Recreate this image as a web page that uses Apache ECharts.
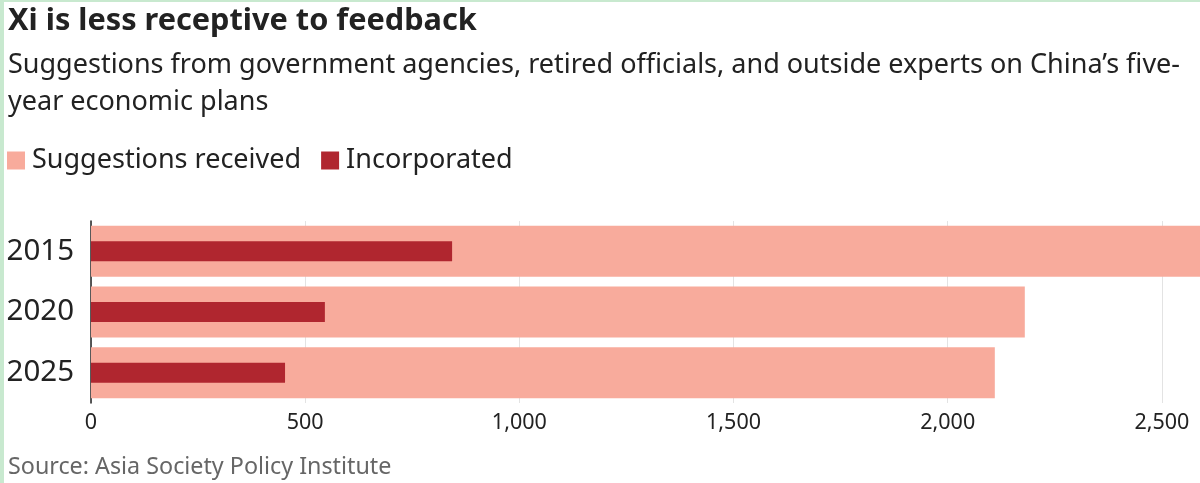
<!DOCTYPE html>
<html>
<head>
<meta charset="utf-8">
<style>
  html, body { margin: 0; padding: 0; background: #fff; }
  #chart { width: 1200px; height: 483px; }
</style>
<script src="https://cdn.jsdelivr.net/npm/echarts@6/dist/echarts.min.js"></script>
</head>
<body>
<div id="chart"></div>
<script>
// data
var years = ['2015', '2020', '2025'];
var received = [2650, 2180, 2110];
var incorporated = [843, 546, 453];
var ticks = [0, 500, 1000, 1500, 2000, 2500];

var font = 'Noto Sans';
var chart = echarts.init(document.getElementById('chart'));

function fmt(v) {
  if (ticks.indexOf(v) < 0) return '';
  return echarts.format.addCommas(v);
}

var option = {
  animation: false,
  textStyle: { fontFamily: font },
  title: [
    {
      text: 'Xi is less receptive to feedback',
      left: 3, top: 1,
      textStyle: { fontFamily: font, fontSize: 30.7, fontWeight: 'bold', color: '#222' }
    },
    {
      text: 'Suggestions from government agencies, retired officials, and outside experts on China\u2019s five-\nyear economic plans',
      left: 3, top: 42,
      textStyle: { fontFamily: font, fontSize: 27, fontWeight: 'normal', color: '#222', lineHeight: 37 }
    },
    {
      text: 'Source: Asia Society Policy Institute',
      left: 3, top: 451,
      textStyle: { fontFamily: font, fontSize: 23.3, fontWeight: 'normal', color: '#666' }
    }
  ],
  legend: {
    left: 2, top: 142,
    icon: 'rect',
    itemWidth: 18, itemHeight: 18,
    itemGap: 20,
    textStyle: { fontFamily: font, fontSize: 27, color: '#222', padding: [0, 0, 0, 2] },
    data: ['Suggestions received', 'Incorporated']
  },
  grid: { left: 91, top: 221, height: 182, right: 0, containLabel: false },
  xAxis: {
    type: 'value',
    min: 0, max: 2589, interval: 500,
    axisLine: { show: false },
    axisTick: { show: false },
    splitLine: { show: true, showMaxLine: false, lineStyle: { color: '#e3e3e3', width: 1 } },
    axisLabel: { fontFamily: font, fontSize: 21.5, color: '#222', margin: 9, showMaxLabel: false, formatter: fmt }
  },
  yAxis: [
    {
      type: 'category', data: years, inverse: true,
      axisLine: { show: true, lineStyle: { color: '#222', width: 1.5 } },
      axisTick: { show: false },
      axisLabel: { fontFamily: font, fontSize: 29.5, color: '#222', margin: 17 }
    },
    {
      type: 'category', data: years, inverse: true, position: 'left',
      axisLine: { show: false }, axisTick: { show: false }, axisLabel: { show: false }
    }
  ],
  series: [
    {
      name: 'Suggestions received', type: 'bar', yAxisIndex: 0,
      data: received, barWidth: 51,
      itemStyle: { color: '#f8ab9c' }
    },
    {
      name: 'Incorporated', type: 'bar', yAxisIndex: 1,
      data: incorporated, barWidth: 20,
      itemStyle: { color: '#b0262f' }
    }
  ],
  graphic: [
    { type: 'rect', left: 0, top: 0, shape: { width: 4, height: 483 }, style: { fill: '#c8e9cf' }, z: 100 },
    { type: 'rect', left: 0, top: 0, shape: { width: 1200, height: 2 }, style: { fill: '#c8e9cf' }, z: 100 }
  ]
};

chart.setOption(option);
</script>
</body>
</html>
